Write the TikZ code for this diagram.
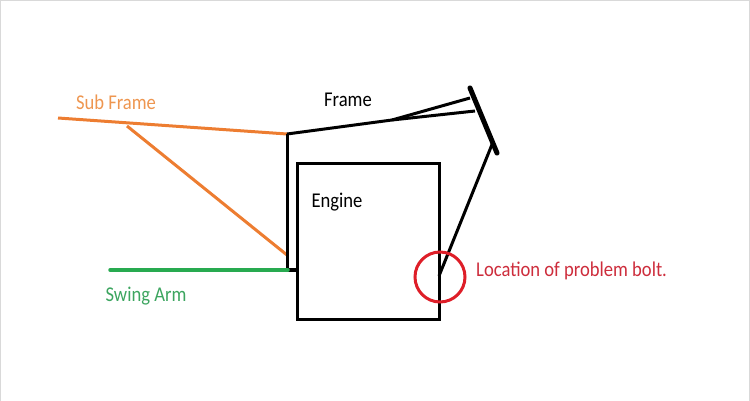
\documentclass[tikz,border=0pt]{standalone}
\usepackage{fontspec}
\setmainfont{Carlito}
\definecolor{sforange}{RGB}{237,125,49}
\definecolor{sforangetext}{RGB}{238,150,80}
\definecolor{sagreen}{RGB}{40,170,80}
\definecolor{sagreentext}{RGB}{60,165,95}
\definecolor{boltred}{RGB}{222,30,40}
\definecolor{boltredtext}{RGB}{205,45,60}
\newcommand{\tallt}[1]{\scalebox{1}[1.13]{#1}}
\begin{document}
\begin{tikzpicture}[x=1pt,y=-1pt,
  lbl/.style={inner sep=0pt,font=\fontsize{18.6}{20}\selectfont},
  blk/.style={draw=black,line width=3pt},
  org/.style={draw=sforange,line width=3pt},
  grn/.style={draw=sagreen,line width=3.5pt,line cap=round}]
\useasboundingbox (0,0) rectangle (750,401);
\draw[gray!30,line width=1pt] (0.5,401) -- (0.5,0.5) -- (749.5,0.5) -- (749.5,401);
% coordinates
\coordinate (sfl) at (58,118);
\coordinate (sfj) at (127,126);
\coordinate (ftl) at (287,134);
\coordinate (fb) at (287,270);
\coordinate (fstub) at (296,270);
\coordinate (fmid) at (392,120);
\coordinate (fa) at (470,98);
\coordinate (fb2) at (475,111);
\coordinate (bart) at (470,88);
\coordinate (barb) at (497,153);
\coordinate (strt) at (493,142);
\coordinate (strb) at (439,276);
\coordinate (sal) at (110,270);
\coordinate (sar) at (288,270);
\coordinate (sfb) at (287,255);
% sub frame
\draw[org] (sfl) -- (ftl);
\draw[org] (sfj) -- (sfb);
% frame
\draw[blk,line join=round] (ftl) -- (fmid) -- (fb2);
\draw[blk] (fmid) -- (fa);
\draw[blk,line width=5pt,line cap=round] (bart) -- (barb);
\draw[blk] (strt) -- (strb);
\draw[blk] (ftl) -- (fb);
\draw[blk,line width=4pt] (fb) -- (fstub);
% engine
\node[draw=black,line width=3pt,minimum width=142pt,minimum height=156pt,inner sep=0pt,anchor=north west] (engine) at (296,162) {};
% swing arm
\draw[grn] (sal) -- (sar);
% bolt circle
\node[draw=boltred,line width=3pt,circle,minimum size=50pt,inner sep=0pt] (bolt) at (440,277) {};
% labels
\node[lbl,text=sforangetext] (tsub) at (116,102) {\tallt{Sub Frame}};
\node[lbl] (tframe) at (348,100) {\tallt{Frame}};
\node[lbl] (tengine) at (337,202) {\tallt{Engine}};
\node[lbl,text=sagreentext] (tswing) at (146,296) {\tallt{Swing Arm}};
\node[lbl,text=boltredtext,anchor=west] (tbolt) at (476,271) {\tallt{Location of problem bolt.}};
\end{tikzpicture}
\end{document}
